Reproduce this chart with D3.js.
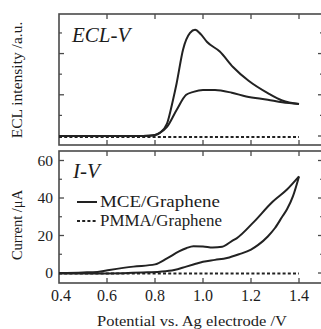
<!DOCTYPE html>
<html>
<head>
<meta charset="utf-8">
<script src="https://cdn.jsdelivr.net/npm/d3@7"></script>
<style>
  body { margin: 0; background: #fff; }
  svg { display: block; }
  text { font-family: "Liberation Serif", "DejaVu Serif", serif; fill: #1c1c1c; }
</style>
</head>
<body>
<script>
// ECL-V panel (arbitrary units), forward and return scans of MCE/Graphene
var eclForwardV = [0.4, 0.6, 0.75, 0.8, 0.82, 0.85, 0.875, 0.89, 0.917, 0.946, 0.967, 0.99, 1.017, 1.07, 1.125, 1.19, 1.27, 1.33, 1.4];
var eclForward  = [0, 0, 0, 0.05, 0.15, 0.6, 1.75, 2.55, 4.2, 5.0, 5.15, 4.95, 4.56, 4.1, 3.35, 2.68, 2.08, 1.72, 1.55];
var eclReturnV  = [0.4, 0.75, 0.79, 0.82, 0.85, 0.89, 0.93, 0.96, 1.0, 1.05, 1.12, 1.18, 1.27, 1.33, 1.4];
var eclReturn   = [0, 0, 0.02, 0.15, 0.44, 1.26, 2.0, 2.14, 2.23, 2.23, 2.1, 1.92, 1.76, 1.64, 1.55];

// I-V panel (uA)
var ivUpperV = [0.4, 0.5, 0.56, 0.61, 0.71, 0.8, 0.85, 0.9, 0.93, 0.96, 1.0, 1.04, 1.08, 1.12, 1.14, 1.21, 1.29, 1.35, 1.4];
var ivUpper  = [0, 0.3, 0.6, 1.6, 3.4, 4.6, 7.8, 11.5, 13.2, 14.3, 14.2, 13.6, 14.0, 17, 18.5, 27, 38, 44.5, 51.5];
var ivLowerV = [0.4, 0.6, 0.75, 0.82, 0.88, 0.93, 0.96, 1.0, 1.05, 1.1, 1.15, 1.2, 1.23, 1.27, 1.3, 1.33, 1.35, 1.375, 1.4];
var ivLower  = [-0.3, -0.2, 0.3, 0.7, 1.6, 3.4, 4.5, 6.0, 7.0, 8.0, 10.0, 12.5, 15, 19.5, 24, 30, 34, 41, 51.5];

// PMMA/Graphene, flat in both panels
var pmmaV   = [0.4, 1.4];
var pmmaEcl = [-0.05, -0.05];
var pmmaIv  = [-0.3, -0.3];

var xTicks = [0.4, 0.6, 0.8, 1.0, 1.2, 1.4];
var eclTicks = [0, 2, 4];
var eclMinor = [1, 3, 5];
var ivTicks = [0, 20, 40, 60];
var ivMinor = [10, 30, 50];

var width = 321, height = 329;
var ink = "#222";
var frameColor = "#4a4a4a";

var svg = d3.select("body").append("svg")
    .attr("width", width)
    .attr("height", height);

var x = d3.scaleLinear().domain([0.4, 1.5]).range([59, 323]);

var yEcl = d3.scaleLinear().domain([-0.437, 5.92]).range([145, 14]);
var yIv = d3.scaleLinear().domain([-5.33, 65.07]).range([283, 151]);

function zip(xs, ys) {
    return xs.map(function(v, i) { return [v, ys[i]]; });
}

function drawPanel(y, top, bottom, majorY, minorY) {
    var g = svg.append("g");
    var left = x.range()[0], right = x.range()[1];

    g.append("rect")
        .attr("x", left).attr("y", top)
        .attr("width", right - left).attr("height", bottom - top)
        .attr("fill", "none")
        .attr("stroke", frameColor)
        .attr("stroke-width", 1.6);

    // x ticks, inward on top and bottom
    xTicks.slice(1).forEach(function(t) {
        g.append("line").attr("x1", x(t)).attr("x2", x(t))
            .attr("y1", bottom).attr("y2", bottom - 5)
            .attr("stroke", frameColor).attr("stroke-width", 1.3);
        g.append("line").attr("x1", x(t)).attr("x2", x(t))
            .attr("y1", top).attr("y2", top + 5)
            .attr("stroke", frameColor).attr("stroke-width", 1.3);
    });

    // y ticks, inward on left and right
    majorY.forEach(function(t) {
        [[left, 5], [right, -5]].forEach(function(s) {
            g.append("line").attr("x1", s[0]).attr("x2", s[0] + s[1])
                .attr("y1", y(t)).attr("y2", y(t))
                .attr("stroke", frameColor).attr("stroke-width", 1.3);
        });
    });
    minorY.forEach(function(t) {
        [[left, 3], [right, -3]].forEach(function(s) {
            g.append("line").attr("x1", s[0]).attr("x2", s[0] + s[1])
                .attr("y1", y(t)).attr("y2", y(t))
                .attr("stroke", frameColor).attr("stroke-width", 1.2);
        });
    });
    return g;
}

function curve(y, pts, dashed) {
    var line = d3.line()
        .x(function(d) { return x(d[0]); })
        .y(function(d) { return y(d[1]); })
        .curve(d3.curveMonotoneX);
    svg.append("path")
        .datum(pts)
        .attr("d", line)
        .attr("fill", "none")
        .attr("stroke", ink)
        .attr("stroke-width", 2)
        .attr("stroke-dasharray", dashed ? "3,2.2" : null);
}

// top panel
drawPanel(yEcl, 14, 145, eclTicks, eclMinor);
curve(yEcl, zip(pmmaV, pmmaEcl), true);
curve(yEcl, zip(eclForwardV, eclForward), false);
curve(yEcl, zip(eclReturnV, eclReturn), false);

// bottom panel
drawPanel(yIv, 151, 283, ivTicks, ivMinor);
curve(yIv, zip(pmmaV, pmmaIv), true);
curve(yIv, zip(ivUpperV, ivUpper), false);
curve(yIv, zip(ivLowerV, ivLower), false);

// tick labels
svg.append("g").selectAll("text")
    .data(ivTicks).enter().append("text")
    .attr("x", 53)
    .attr("y", function(d) { return yIv(d) + 5; })
    .attr("text-anchor", "end")
    .attr("font-size", 15.5)
    .text(function(d) { return d; });

svg.append("g").selectAll("text")
    .data(xTicks).enter().append("text")
    .attr("x", function(d) { return x(d) + (d === 0.4 ? 2 : 0); })
    .attr("y", 301)
    .attr("text-anchor", "middle")
    .attr("font-size", 16)
    .text(function(d) { return d3.format(".1f")(d); });

// axis titles
svg.append("text")
    .attr("x", 97).attr("y", 325.5)
    .attr("font-size", 15)
    .attr("textLength", 190)
    .attr("lengthAdjust", "spacingAndGlyphs")
    .text("Potential vs. Ag electrode /V");

svg.append("text")
    .attr("transform", "translate(22,225) rotate(-90)")
    .attr("text-anchor", "middle")
    .attr("font-size", 14.5)
    .text("Current /\u03bcA");

svg.append("text")
    .attr("transform", "translate(22,80) rotate(-90)")
    .attr("text-anchor", "middle")
    .attr("font-size", 15.5)
    .text("ECL intensity /a.u.");

// panel labels
svg.append("text")
    .attr("x", 72).attr("y", 42)
    .attr("font-size", 21).attr("font-style", "italic")
    .text("ECL-V");

svg.append("text")
    .attr("x", 73).attr("y", 178)
    .attr("font-size", 21).attr("font-style", "italic")
    .text("I-V");

// legend
var legend = [
    {label: "MCE/Graphene", dashed: false, y: 202, len: 120},
    {label: "PMMA/Graphene", dashed: true, y: 221, len: 122}
];
legend.forEach(function(d) {
    svg.append("line")
        .attr("x1", 77).attr("x2", 97)
        .attr("y1", d.y).attr("y2", d.y)
        .attr("stroke", ink).attr("stroke-width", 2)
        .attr("stroke-dasharray", d.dashed ? "3,2.2" : null);
    svg.append("text")
        .attr("x", 100).attr("y", d.y + 5)
        .attr("font-size", 16)
        .attr("textLength", d.len)
        .attr("lengthAdjust", "spacingAndGlyphs")
        .text(d.label);
});
</script>
</body>
</html>
